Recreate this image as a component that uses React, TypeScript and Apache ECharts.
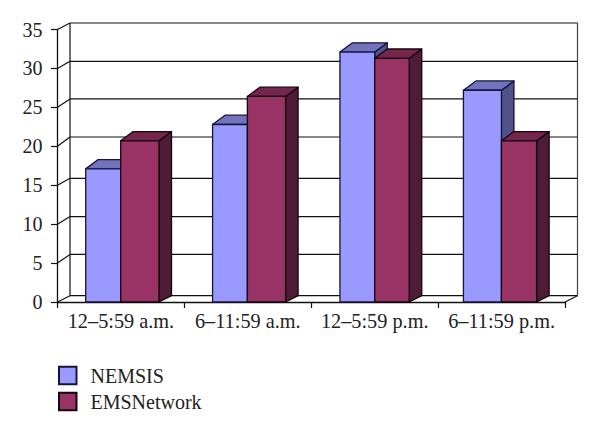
import React, { useEffect, useRef } from "react";
import * as echarts from "echarts";

const categories = ["12–5:59 a.m.", "6–11:59 a.m.", "12–5:59 p.m.", "6–11:59 p.m."];
const nemsis = [17.1, 22.8, 32.1, 27.2];
const emsNetwork = [20.7, 26.4, 31.3, 20.7];
const yTicks = [0, 5, 10, 15, 20, 25, 30, 35];

// Layout only: px offsets from the left edge of each category band
const blueStart = [28.2, 28.2, 28.7, 25.3];
const split = [63.2, 63, 63.5, 63.3];
const redEnd = [101.5, 101.2, 98, 98.5];
const DX = 12.5;
const DY_TOP = 9.3;
const WALL_DX = 12.5;
const WALL_DY = 6.3;
// Layout only: how far each back-wall gridline sits above its front tick
const wallRise = [6.3, 8.6, 7.6, 6.9, 9.3, 8.4, 7.1, 6.5];

const LINE = "#111";
const FONT = "'Liberation Serif', serif";
const TEXT = "#222";

const colors = {
  NEMSIS: { front: "#9999ff", top: "#7272bd", side: "#52528a", border: "#14143c" },
  EMSNetwork: { front: "#993366", top: "#74264d", side: "#4e1c36", border: "#14060e" },
};

function makeBar(kind: "NEMSIS" | "EMSNetwork") {
  const c = colors[kind];
  return (params: any, api: any) => {
    const i = api.value(0);
    const band = api.size([1, 0])[0];
    const left = api.coord([i, 0])[0] - band / 2;
    const base = api.coord([i, 0])[1];
    const top = api.coord([i, api.value(1)])[1];
    const x0 = left + (kind === "NEMSIS" ? blueStart[i] : split[i]);
    const x1 = left + (kind === "NEMSIS" ? split[i] : redEnd[i]);
    const line = { stroke: c.border, lineWidth: 1.3, lineJoin: "round" };
    return {
      type: "group",
      children: [
        {
          type: "polygon",
          shape: {
            points: [[x1, top], [x1 + DX, top - DY_TOP], [x1 + DX, base - WALL_DY], [x1, base]],
          },
          style: { fill: c.side, ...line },
        },
        {
          type: "polygon",
          shape: {
            points: [[x0, top], [x0 + DX, top - DY_TOP], [x1 + DX, top - DY_TOP], [x1, top]],
          },
          style: { fill: c.top, ...line },
        },
        {
          type: "rect",
          shape: { x: x0, y: top, width: x1 - x0, height: base - top },
          style: { fill: c.front, ...line },
        },
      ],
    };
  };
}

function renderWall(params: any, api: any) {
  const cs = params.coordSys;
  const v = api.value(1);
  const y = api.coord([0, v])[1];
  const rise = wallRise[params.dataIndex];
  const xL = cs.x;
  const xR = cs.x + cs.width;
  const stroke = { stroke: LINE, lineWidth: 1.2 };
  const children: any[] = [
    {
      type: "line",
      shape: { x1: xL, y1: y, x2: xL + WALL_DX, y2: y - rise },
      style: stroke,
    },
    {
      type: "line",
      shape: { x1: xL + WALL_DX, y1: y - rise, x2: xR + WALL_DX, y2: y - rise },
      style: stroke,
    },
  ];
  if (v === 0) {
    children.push({
      type: "line",
      shape: { x1: xR, y1: y, x2: xR + WALL_DX, y2: y - rise },
      style: stroke,
    });
    const yT = cs.y - wallRise[wallRise.length - 1];
    children.push({
      type: "line",
      shape: { x1: xL + WALL_DX, y1: yT, x2: xL + WALL_DX, y2: y - rise },
      style: stroke,
    });
    children.push({
      type: "line",
      shape: { x1: xR + WALL_DX, y1: yT, x2: xR + WALL_DX, y2: y - rise },
      style: { stroke: "#444", lineWidth: 1.2 },
    });
  }
  return { type: "group", children };
}

export default function App() {
  const ref = useRef<HTMLDivElement>(null);
  useEffect(() => {
    document.body.style.margin = "0";
    const chart = echarts.init(ref.current!, null, { renderer: "svg" });
    chart.setOption({
      animation: false,
      backgroundColor: "#fff",
      grid: { left: 57.5, right: 35, top: 29.5, bottom: 131 },
      legend: {
        orient: "vertical",
        left: 58,
        top: 365.5,
        itemWidth: 17.5,
        itemHeight: 17.5,
        itemGap: 6,
        icon: "rect",
        textStyle: { fontFamily: FONT, fontSize: 20, color: TEXT, padding: [0, 0, 0, 9] },
        padding: 0,
        data: ["NEMSIS", "EMSNetwork"],
      },
      xAxis: {
        type: "category",
        data: categories,
        axisLine: { show: true, lineStyle: { color: LINE, width: 1.3 } },
        axisTick: { show: true, length: 6, lineStyle: { color: LINE, width: 1.2 } },
        axisLabel: { fontFamily: FONT, fontSize: 20.3, color: TEXT, margin: 9, interval: 0 },
      },
      yAxis: {
        type: "value",
        min: 0,
        max: 35,
        interval: 5,
        splitLine: { show: false },
        axisLine: { show: true, lineStyle: { color: LINE, width: 1.3 } },
        axisTick: { show: true, length: 6.5, lineStyle: { color: LINE, width: 1.2 } },
        axisLabel: { fontFamily: FONT, fontSize: 20, color: TEXT, margin: 15 },
      },
      series: [
        {
          type: "custom",
          name: "wall",
          silent: true,
          z: 1,
          renderItem: renderWall,
          encode: { x: 0, y: 1 },
          data: yTicks.map((v) => [0, v]),
        },
        {
          type: "custom",
          name: "NEMSIS",
          z: 2,
          renderItem: makeBar("NEMSIS"),
          encode: { x: 0, y: 1 },
          itemStyle: { color: colors.NEMSIS.front, borderColor: colors.NEMSIS.border, borderWidth: 1.3 },
          data: nemsis.map((v, i) => [i, v]),
        },
        {
          type: "custom",
          name: "EMSNetwork",
          z: 3,
          renderItem: makeBar("EMSNetwork"),
          encode: { x: 0, y: 1 },
          itemStyle: { color: colors.EMSNetwork.front, borderColor: colors.EMSNetwork.border, borderWidth: 1.3 },
          data: emsNetwork.map((v, i) => [i, v]),
        },
      ],
    });
    return () => chart.dispose();
  }, []);
  return <div ref={ref} style={{ width: 600, height: 433 }} />;
}
